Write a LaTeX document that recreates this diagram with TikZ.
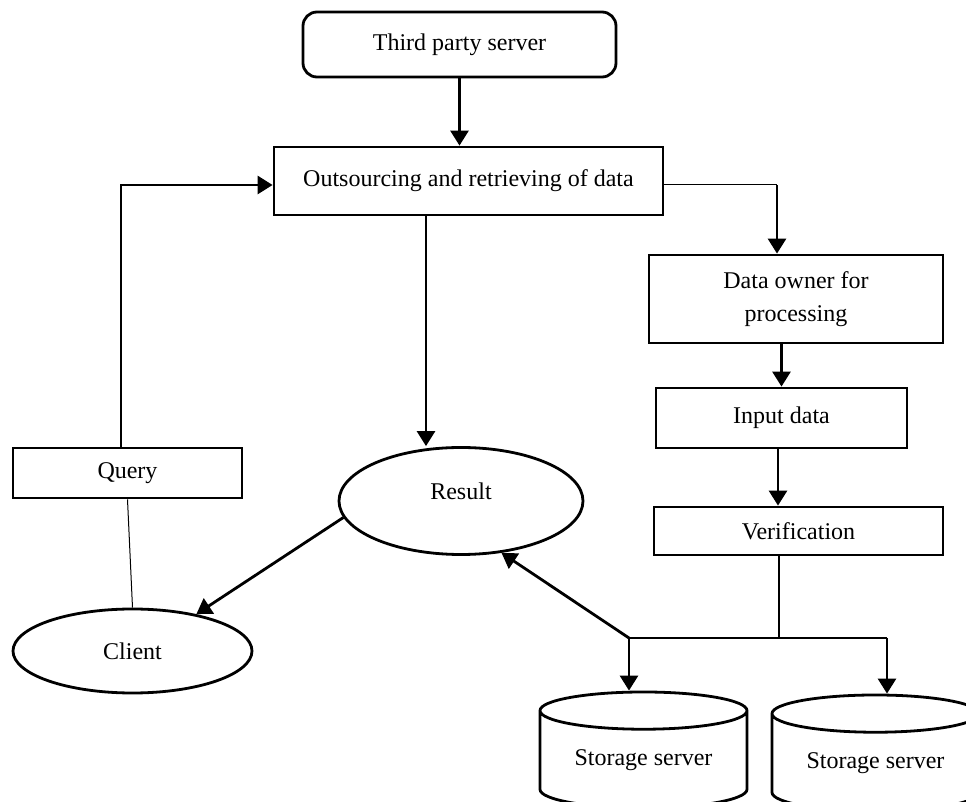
\documentclass[tikz,border=0pt]{standalone}
\usepackage{fontspec}
\setmainfont{Liberation Serif}
\usepackage{tikz}
\usetikzlibrary{arrows.meta, shapes.geometric, calc}

\tikzset{
  block/.style={draw, line width=1.4pt, inner sep=0pt, align=center},
  oval/.style={draw, ellipse, line width=1.4pt, inner sep=0pt},
  store/.style={draw, cylinder, shape border rotate=90, aspect=0.27,
    line width=1.4pt, inner sep=0pt, minimum width=103.5pt, minimum height=58pt},
  arrow/.style={line width=1.4pt, -{Triangle[length=7.5pt, width=9pt]}},
  link/.style={line width=1.4pt},
  thinlink/.style={line width=0.5pt}
}

\begin{document}
\begin{tikzpicture}[x=0.5pt, y=-0.5pt, every node/.style={font=\fontsize{12}{16.5}\selectfont}]
  \useasboundingbox (0,0) rectangle (966,802);

  % Server and data handling
  \node[block, rounded corners=7pt, minimum width=156.5pt, minimum height=32.5pt] (tps) at (459.5,44.5) {Third party server};
  \node[block, minimum width=194.5pt, minimum height=34pt] (ord) at (468.5,181) {Outsourcing and retrieving of data};

  % Right column (data owner side)
  \node[block, minimum width=147pt, minimum height=44pt] (own) at (796,299) {Data owner for\\processing};
  \node[block, minimum width=125.5pt, minimum height=30pt] (inp) at (781.5,418) {Input data};
  \node[block, minimum width=144.5pt, minimum height=24pt] (ver) at (798.5,531) {Verification};

  % Left side (client side)
  \node[block, minimum width=114.5pt, minimum height=25pt] (qry) at (127.5,473) {Query};
  \node[oval, minimum width=122pt, minimum height=53.5pt] (res) at (461,501) {};
  \node (reslabel) at (461,491) {Result};
  \node[oval, minimum width=119.5pt, minimum height=42pt] (cli) at (132.5,651) {Client};

  % Storage
  \node[store] (st1) at (643.5,760) {Storage server};
  \node[store] (st2) at (875.5,763) {Storage server};

  \coordinate (ownin) at ([xshift=-9.5pt]own.north);
  \coordinate (ordout) at ($(ord.south)+(-42.5,0)$);
  \coordinate (split) at (629,638);
  \coordinate (splitr) at (887,638);

  \draw[arrow] (tps) -- (tps |- ord.north);
  \draw[arrow] ([xshift=-3.25pt]qry.north) |- ([yshift=-2pt]ord.west);
  \draw[thinlink] ([yshift=-2pt]ord.east) -- ([yshift=-2pt]ord.east -| ownin);
  \draw[arrow] ([yshift=-2pt]ord.east -| ownin) -- (ownin);
  \draw[arrow] (inp.north |- own.south) -- (inp.north);
  \draw[arrow] ([xshift=-1.75pt]inp.south) -- ([xshift=-1.75pt]inp.south |- ver.north);
  \draw[arrow] (ordout) -- (ordout |- res.north);

  % Verification to storage
  \draw[link] ([xshift=-9.75pt]ver.south) -- ([xshift=-9.75pt]ver.south |- split);
  \draw[link] (split) -- (splitr);
  \draw[arrow] (split) -- (split |- st1.north);
  \draw[arrow] (splitr) -- (splitr |- st2.north);

  \draw[arrow] (split) -- (res.-52);
  \draw[arrow] (res.188) -- (cli.30);
  \draw[thinlink] (qry.south) -- (cli.north);
\end{tikzpicture}
\end{document}
